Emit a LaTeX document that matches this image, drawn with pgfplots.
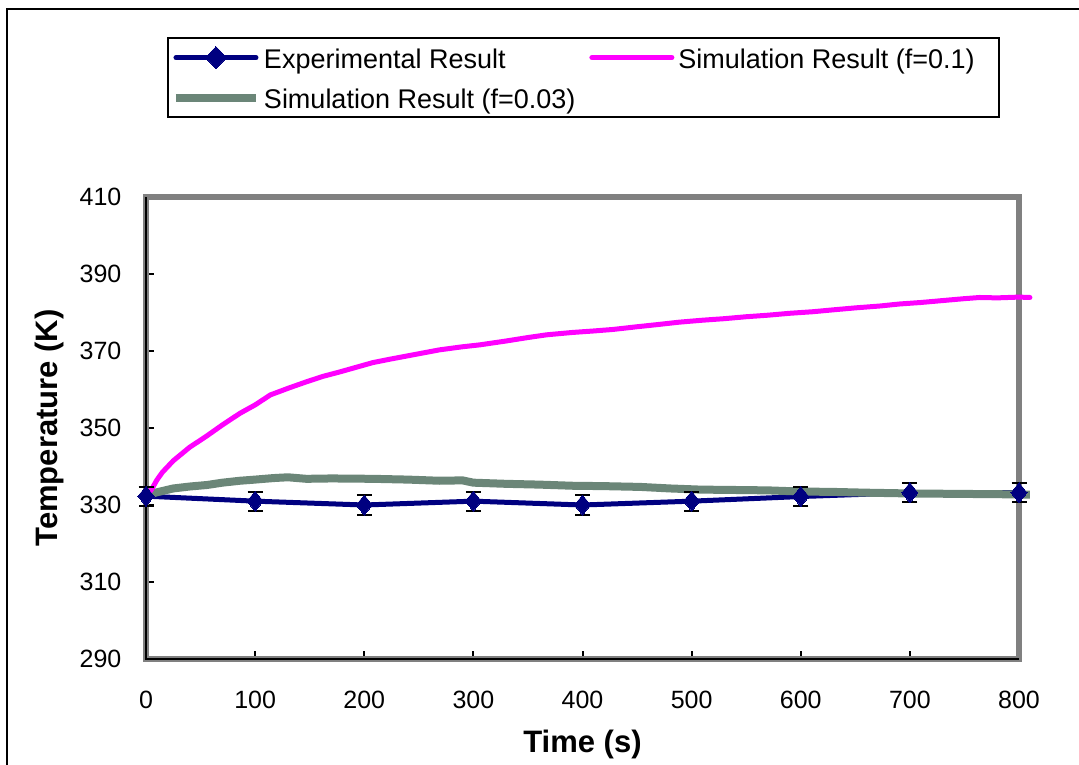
\documentclass[border=0pt]{standalone}
\usepackage{pgfplots}
\pgfplotsset{compat=1.18}
\usepackage{pgfplotstable}
\usepackage{fontspec}
\setmainfont{Liberation Sans}

\definecolor{expblue}{RGB}{0,0,128}
\definecolor{simmag}{RGB}{255,0,255}
\definecolor{simgreen}{RGB}{107,134,120}
\definecolor{framegray}{RGB}{128,128,128}

% measured temperatures with their uncertainty
\pgfplotstableread{
t    T      e
0    332.3  2.5
100  331.0  2.5
200  330.0  2.5
300  331.0  2.5
400  330.0  2.5
500  331.0  2.5
600  332.2  2.5
700  333.2  2.5
800  333.2  2.5
}\expdata

% simulation, f = 0.1
\pgfplotstableread{
t    T
0    332.3
5    334.0
10   336.5
15   338.5
25   341.5
40   345.0
55   347.8
70   350.8
86   353.8
100  356.0
114  358.6
130  360.3
147  362.0
162  363.4
178  364.6
193  365.8
208  367.0
224  367.9
239  368.7
254  369.5
269  370.3
290  371.1
306  371.6
330  372.6
350  373.5
367  374.2
390  374.8
410  375.2
428  375.6
450  376.3
470  376.9
489  377.5
510  378.0
530  378.4
550  378.9
570  379.3
590  379.8
611  380.2
630  380.7
650  381.2
673  381.7
690  382.2
710  382.6
734  383.2
750  383.6
764  383.9
780  383.8
800  384.0
810  383.9
}\simA

% simulation, f = 0.03
\pgfplotstableread{
t    T
0    332.5
10   333.3
25   334.3
40   334.8
56   335.2
70   335.8
86   336.3
100  336.6
117  337.0
130  337.2
147  336.8
170  336.9
208  336.8
240  336.6
269  336.3
290  336.4
300  335.8
330  335.5
360  335.3
391  335.0
420  334.9
453  334.7
480  334.3
508  334.0
540  333.9
570  333.8
600  333.5
630  333.4
660  333.2
700  333.0
740  332.9
783  332.8
810  332.7
}\simB

\begin{document}
\begin{tikzpicture}
\path[use as bounding box] (0,0) rectangle (539.5pt,-382pt);
\clip (0,0) rectangle (539.5pt,-382pt);
% chart area border
\draw[black, line width=1pt] (3.5pt,-4.5pt) rectangle (560pt,-400pt);
\begin{axis}[
  at={(73pt,-329.5pt)}, anchor=south west,
  scale only axis, width=436.5pt, height=231pt,
  xmin=0, xmax=800, ymin=290, ymax=410,
  xtick={0,100,...,800}, ytick={290,310,...,410},
  xtick pos=left, ytick pos=left,
  tick align=inside,
  major tick length=4pt,
  major tick style={black, line width=1pt},
  axis line style={framegray, line width=2.75pt},
  clip=false,
  ticklabel style={font=\fontsize{12.5}{14}\selectfont},
  /pgf/number format/assume math mode=true,
  /pgf/number format/set thousands separator={},
  xticklabel style={yshift=-12.5pt},
  yticklabel style={xshift=-8.8pt},
  xlabel={Time (s)},
  ylabel={Temperature (K)},
  label style={font=\fontsize{15.5}{18}\selectfont\bfseries},
  xlabel style={at={(axis description cs:0.5,-0.1840)}, anchor=center},
  ylabel style={at={(axis description cs:-0.1100,0.5)}, anchor=center},
  legend columns=2,
  legend cell align=left,
  legend image code/.code={\draw[#1, mark repeat=2, mark phase=2] plot coordinates {(0pt,0pt) (20pt,0pt) (40pt,0pt)};},
  legend style={
    at={(axis description cs:0.02405,1.3463)}, anchor=north west,
    draw=black, line width=1pt,
    font=\fontsize{13.5}{16}\selectfont,
    inner xsep=2pt, inner ysep=4.3pt,
    row sep=9.5pt,
    nodes={inner sep=0pt, text height=10.5pt, text depth=0pt},
    /tikz/every even column/.append style={column sep=7pt},
    /tikz/every odd column/.append style={column sep=2pt},
  },
]
\addlegendimage{expblue, line width=2.5pt, line cap=round, mark=diamond*, mark size=5.5pt, mark options={fill=expblue, draw=expblue, line width=0pt, xscale=1.3}}
\addlegendentry{Experimental Result}
\addlegendimage{simmag, line width=2.5pt, line cap=round}
\addlegendentry{Simulation Result (f=0.1)\hspace*{10pt}}
\addlegendimage{simgreen, line width=4pt}
\addlegendentry{Simulation Result (f=0.03)}

% black axis lines on the left and bottom edges of the plot frame
\draw[black, line width=1pt] (axis cs:0,410) -- (axis cs:0,290) -- (axis cs:800,290);

% experimental curve (line only; markers drawn last)
\addplot[expblue, line width=2.5pt, no marks, forget plot] table[x=t, y=T] {\expdata};
\addplot[simgreen, line width=4pt, no marks, forget plot] table[x=t, y=T] {\simB};
\addplot[simmag, line width=2.5pt, line cap=round, no marks, forget plot] table[x=t, y=T] {\simA};
\addplot[forget plot, draw=none, mark=diamond*, mark size=5pt,
  mark options={fill=expblue, draw=expblue, line width=0pt, xscale=1.07},
  error bars/.cd, y dir=both, y explicit,
  error bar style={black, line width=1pt},
  error mark options={black, rotate=90, mark size=3.75pt, line width=1pt}]
  table[x=t, y=T, y error=e] {\expdata};
\end{axis}
\end{tikzpicture}
\end{document}
